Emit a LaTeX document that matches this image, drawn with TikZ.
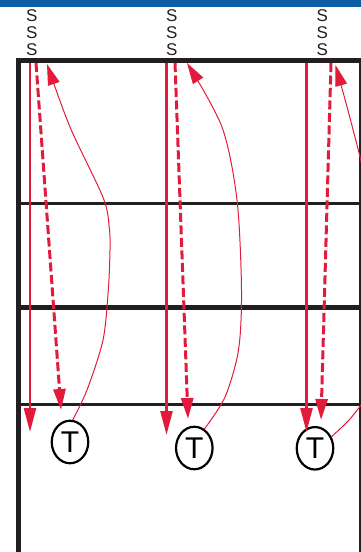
\documentclass[tikz,border=0pt]{standalone}
\usepackage{fontspec}
\setmainfont{Liberation Sans}
\usetikzlibrary{arrows.meta,shapes.geometric}
\definecolor{barblue}{RGB}{12,94,165}
\definecolor{arrred}{RGB}{226,27,60}
\definecolor{linedark}{RGB}{35,31,32}
\begin{document}
\begin{tikzpicture}[x=1pt,y=-1pt,
  frame/.style={draw=linedark, line cap=butt},
  solidarrow/.style={draw=arrred, line width=2.5pt, -{Triangle[length=24pt,width=12pt]}},
  dasharrow/.style={draw=arrred, line width=3pt, dash pattern=on 9pt off 3.5pt, -{Triangle[length=21pt,width=12pt]}},
  thinarrow/.style={draw=arrred, line width=1pt, -{Triangle[length=21pt,width=12pt]}},
  thinline/.style={draw=arrred, line width=1pt},
  slabel/.style={font=\fontsize{17}{17}\selectfont, anchor=base, inner sep=0pt, text=linedark},
  tnode/.style={ellipse, draw=black, line width=2.2pt, minimum width=36.5pt, minimum height=42.5pt, inner sep=0pt, font=\fontsize{30}{30}\selectfont}]
\useasboundingbox (0,0) rectangle (361,552);
\clip (0,0) rectangle (361,552);
% blue bar
\fill[barblue] (0,0) rectangle (361,7);
% frame
\draw[frame, line width=5pt] (18.5,58) -- (18.5,552);
\draw[frame, line width=5.5pt] (16,60.5) -- (361,60.5);
\draw[frame, line width=2.5pt] (360,58) -- (360,552);
\draw[frame, line width=3pt] (18,203.7) -- (361,203.7);
\draw[frame, line width=5pt] (18,307.5) -- (361,307.5);
\draw[frame, line width=3.5pt] (18,404.5) -- (361,404.5);
% labels
\foreach \n/\x in {1/31.7, 2/171.7, 3/322.3} {
  \node[slabel] (s\n a) at (\x,21.5) {S};
  \node[slabel] (s\n b) at (\x,38.2) {S};
  \node[slabel] (s\n c) at (\x,55.2) {S};
}
% T nodes
\node[tnode] (T1) at (70,442) {T};
\node[tnode] (T2) at (194.3,448) {T};
\node[tnode] (T3) at (315,448.3) {T};
% arrow endpoints
\coordinate (a1s) at (30,63);   \coordinate (a1e) at (30,432);
\coordinate (d1s) at (36,63);   \coordinate (d1e) at (61,410);
\coordinate (a2s) at (166.5,63); \coordinate (a2e) at (166.5,435);
\coordinate (d2s) at (175,63);  \coordinate (d2e) at (188,419);
\coordinate (a3s) at (306.5,63); \coordinate (a3e) at (306.5,432);
\coordinate (d3s) at (331,63);  \coordinate (d3e) at (321,420);
\coordinate (c1e) at (47,64);
\coordinate (c2e) at (187,63);
\coordinate (c3e) at (335.5,65);
\coordinate (c3s) at (366,182);
\coordinate (c3o) at (367,397);
% straight arrows
\draw[solidarrow] (a1s) -- (a1e);
\draw[dasharrow] (d1s) -- (d1e);
\draw[solidarrow] (a2s) -- (a2e);
\draw[dasharrow] (d2s) -- (d2e);
\draw[solidarrow] (a3s) -- (a3e);
\draw[dasharrow] (d3s) -- (d3e);
% curved return arrows
\draw[thinarrow] plot[smooth, tension=0.5] coordinates {(T1.83) (87,390) (103,340) (108.3,290) (110,250) (109.3,228) (103.3,198) (70,127) (c1e)};
\draw[thinarrow] plot[smooth, tension=0.5] coordinates {(T2.62) (225,397) (238.5,350) (241.5,290) (237,200) (222,127) (c2e)};
\draw[thinarrow] plot[smooth, tension=0.5] coordinates {(c3s) (358.3,150) (346,103) (c3e)};
\draw[thinline] plot[smooth, tension=0.5] coordinates {(T3.35) (350,419) (c3o)};
\end{tikzpicture}
\end{document}
